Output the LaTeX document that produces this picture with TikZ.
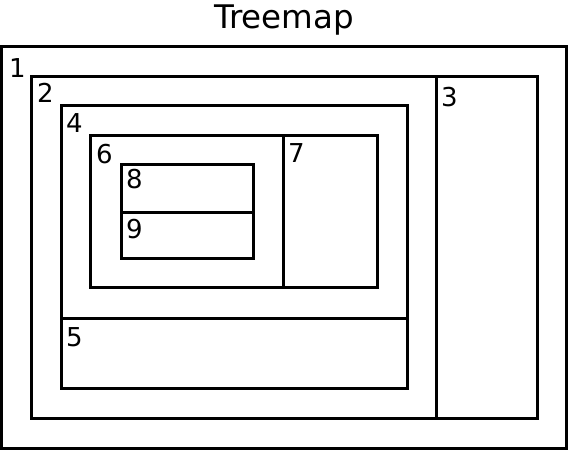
\documentclass[tikz,border=0pt]{standalone}
\usepackage{fontspec}
\setmainfont{DejaVu Sans}
\usepackage{tikz}
\usetikzlibrary{calc,backgrounds}
\tikzset{
  box/.style={draw=black,line width=3pt},
  lbl/.style={anchor=north west,inner sep=0pt,font=\fontsize{26}{26}\selectfont},
  ttl/.style={anchor=base,inner sep=0pt,font=\fontsize{32.5}{32.5}\selectfont}
}

\begin{document}
\begin{tikzpicture}[x=1pt,y=-1pt]
\useasboundingbox (0,0) rectangle (569,452);
\node[ttl] (title) at (284,28.5) {Treemap};
\draw[box] (1.5,46.5) rectangle (566.5,448.3);
\draw[box] (31.5,76) rectangle (537,418);
\draw[box] (436,76) -- (436,418);
\draw[box] (61.5,105.5) rectangle (407.5,388.7);
\draw[box] (61.5,318) -- (407.5,318);
\draw[box] (90.5,135.5) rectangle (377,287.5);
\draw[box] (283,135.5) -- (283,287.5);
\draw[box] (121.5,164.5) rectangle (253,258);
\draw[box] (121.5,212.5) -- (253,212.5);
\foreach \n/\x/\y in {1/9/58,2/37/83,3/441/87,4/66/113,5/66/327,6/96/144,7/288/143,8/126/169,9/126/219}
  \node[lbl] (l\n) at (\x,\y) {\n};
\end{tikzpicture}
\end{document}
